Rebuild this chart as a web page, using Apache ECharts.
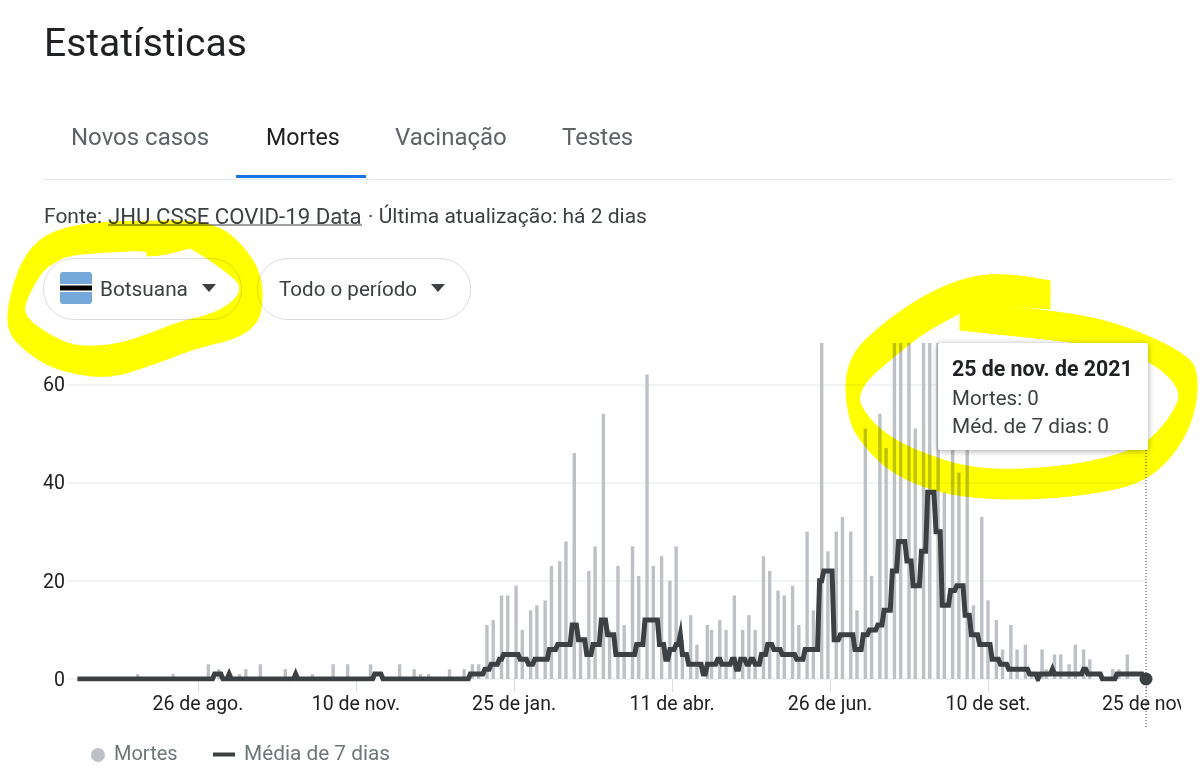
<!DOCTYPE html>
<html lang="pt">
<head>
<meta charset="utf-8">
<title>Estatísticas</title>
<script src="https://cdn.jsdelivr.net/npm/echarts@6/dist/echarts.min.js"></script>
<style>html,body{margin:0;padding:0;background:#fff}#c{width:1200px;height:782px}</style>
</head>
<body>
<div id="c"></div>
<script>
// ---- data (day number = days since 24 Jun 2020) ----
const lastDay = 519;
const tickDays = [63, 139, 215, 291, 367, 443, 519];
const tickLabels = ['26 de ago.', '10 de nov.', '25 de jan.', '11 de abr.', '26 de jun.', '10 de set.', '25 de nov.'];
const yTicks = [0, 20, 40, 60];

const deathDays = [34,51,68,73,83,86,93,105,118,128,135,146,160,167,170,174,184,191,195,198,202,205,209,212,216,219,223,226,230,233,237,240,244,247,251,254,258,261,265,268,272,275,279,282,286,290,293,296,300,303,308,310,314,317,321,325,328,331,335,338,342,345,349,352,356,359,363,366,370,373,377,380,384,387,391,394,398,401,405,408,412,415,419,422,426,429,433,436,440,443,447,450,454,457,461,464,469,471,475,478,482,485,489,492,503,506,510];
const deathValues = [1,1,3,2,1,2,3,2,1,3,3,3,3,2,1,1,2,2,3,3,11,12,17,17,19,10,14,15,16,23,24,28,46,8,22,27,54,10,23,11,27,21,62,23,25,20,27,8,13,7,11,10,12,10,17,10,13,10,25,22,18,17,19,11,30,14,74,26,30,33,30,14,51,21,54,47,72,78,70,51,73,76,70,38,50,42,50,15,33,16,12,6,11,6,7,1,6,2,5,5,3,7,6,4,2,2,5];

const avgStartDays = [5,71,75,78,79,110,111,148,152,194,201,204,208,210,218,222,225,232,236,243,246,250,253,257,260,264,274,278,285,288,290,293,295,296,299,306,308,313,315,320,322,324,327,329,331,334,337,340,344,351,355,362,364,369,372,379,383,386,390,393,397,400,404,407,411,414,418,421,425,428,432,435,439,445,449,453,463,467,468,474,475,489,491,498,505,518];
const avgValues = [0,1,0,1,0,1,0,1,0,1,2,3,4,5,4,3,4,6,7,11,8,5,7,12,9,5,7,12,7,4,6,7,9,5,3,1,3,4,3,4,2,4,3,4,3,5,7,6,5,4,6,20,22,8,9,6,9,10,11,14,22,28,24,19,26,38,30,15,18,19,13,9,7,4,3,2,1,0,1,2,1,2,1,0,1,0];

// ---- derived series ----
const categories = [];
for (let d = 0; d <= lastDay; d++) categories.push(String(d));
const deathData = deathDays.map((d, i) => [d, deathValues[i]]);
const avgData = [];
for (let d = avgStartDays[0], r = 0; d <= lastDay; d++) {
  while (r + 1 < avgStartDays.length && avgStartDays[r + 1] <= d) r++;
  avgData.push([d, avgValues[r]]);
}

// ---- hand-drawn highlighter outlines (page decoration) ----
function chaikin(p, n) {
  for (let k = 0; k < n; k++) {
    const q = [];
    for (let i = 0; i < p.length; i++) {
      const a = p[i], b = p[(i + 1) % p.length];
      q.push([a[0] * .75 + b[0] * .25, a[1] * .75 + b[1] * .25], [a[0] * .25 + b[0] * .75, a[1] * .25 + b[1] * .75]);
    }
    p = q;
  }
  return p;
}
function area(p) { let s = 0; p.forEach((a, i) => { const b = p[(i + 1) % p.length]; s += a[0] * b[1] - b[0] * a[1]; }); return s; }
function ring(outer, inner) {
  const o = chaikin(outer, 2); let h = chaikin(inner, 2);
  if (area(o) * area(h) > 0) h = h.slice().reverse();
  return o.concat([o[0]], h, [h[0], o[0]]);
}
const leftOuter = [[107,222],[152,221],[196,221],[224,229],[244,247],[260,272],[263,300],[258,323],[238,338],[196,348],[152,365],[107,379],[56,370],[26,352],[7,331],[9,300],[21,262],[41,237],[71,226]];
const leftInner = [[45,267],[67,255],[107,252],[147,250],[147,256],[147,256],[163,255],[190,248],[190,248],[210,260],[237,280],[241,290],[232,303],[210,315],[179,322],[152,333],[116,345],[76,347],[49,335],[22,315],[29,293]];
const rightOuter = [[1050,281],[1050,281],[1050,281],[1023,276],[990,274],[963,279],[933,291],[903,309],[877,329],[856,349],[846,373],[846,400],[852,428],[866,448],[886,468],[913,483],[947,494],[990,499],[1040,499],[1090,494],[1134,485],[1162,468],[1185,438],[1197,403],[1197,370],[1188,357],[1160,341],[1123,326],[1090,317],[1050,311],[987,304],[1050,309],[1050,309],[1050,309]];
const rightInner = [[960,313],[960,313],[960,330],[960,330],[1007,335],[1073,342],[1123,350],[1160,367],[1182,392],[1173,413],[1157,433],[1140,447],[1100,460],[1057,467],[1007,470],[967,467],[933,457],[900,443],[877,427],[863,410],[858,397],[867,380],[890,360],[923,333]];

const FONT = 'Roboto, Arial, sans-serif';
const INK = '#202124', GREY = '#5f6368', DARK = '#3c4043', BAR = '#bdc1c6';
function label(x, y, text, size, fill, extra) {
  return { type: 'text', z: 5, x, y, style: Object.assign({ text, fill, font: size + 'px ' + FONT, textVerticalAlign: 'middle' }, extra || {}) };
}
function yellow(points) {
  return { type: 'polygon', z: 50, shape: { points }, style: { fill: '#ffff00', stroke: '#ffff00', lineWidth: 1, blend: 'multiply' } };
}
const chrome = [
  label(44, 46, 'Estatísticas', 39, INK),
  label(71, 139, 'Novos casos', 24, GREY),
  label(266, 139, 'Mortes', 23.2, INK),
  label(395, 139, 'Vacinação', 24, GREY),
  label(562, 139, 'Testes', 24, GREY),
  { type: 'rect', z: 4, shape: { x: 43, y: 179, width: 1130, height: 1 }, style: { fill: '#e8eaed' } },
  { type: 'rect', z: 5, shape: { x: 236, y: 175, width: 130, height: 3 }, style: { fill: '#1a73e8' } },
  label(44, 218, 'Fonte: ', 21, DARK),
  label(108, 218, 'JHU CSSE COVID-19 Data', 22.2, DARK),
  { type: 'rect', z: 5, shape: { x: 108, y: 224.5, width: 254, height: 1 }, style: { fill: DARK } },
  label(368, 218, '· Última atualização: há 2 dias', 21, DARK),
  { type: 'rect', z: 4, shape: { x: 43.5, y: 258.5, width: 198, height: 61, r: 30 }, style: { fill: '#fff', stroke: '#dadce0', lineWidth: 1 } },
  { type: 'rect', z: 4, shape: { x: 257.5, y: 258.5, width: 213, height: 61, r: 30 }, style: { fill: '#fff', stroke: '#dadce0', lineWidth: 1 } },
  { type: 'rect', z: 5, shape: { x: 60, y: 272, width: 32, height: 32, r: 3 }, style: { fill: '#75a9dc' } },
  { type: 'rect', z: 6, shape: { x: 60, y: 284, width: 32, height: 8 }, style: { fill: '#ffffff' } },
  { type: 'rect', z: 7, shape: { x: 60, y: 285.5, width: 32, height: 5 }, style: { fill: '#000000' } },
  label(100, 291, 'Botsuana', 20.8, DARK),
  { type: 'polygon', z: 5, shape: { points: [[202, 284], [216, 284], [209, 292]] }, style: { fill: DARK } },
  label(279, 291, 'Todo o período', 20.6, DARK),
  { type: 'polygon', z: 5, shape: { points: [[431, 284], [445, 284], [438, 292]] }, style: { fill: DARK } },
  { type: 'rect', z: 8, shape: { x: 1181, y: 690, width: 19, height: 30 }, style: { fill: '#fff' } },
  yellow(ring(leftOuter, leftInner)),
  yellow(ring(rightOuter, rightInner)),
  { type: 'rect', z: 60, shape: { x: 938, y: 343, width: 210, height: 107, r: 2 }, style: { fill: '#fff', shadowBlur: 6, shadowColor: 'rgba(0,0,0,.35)', shadowOffsetY: 1 } },
  { type: 'text', z: 61, x: 952, y: 371, style: { text: '25 de nov. de 2021', fill: INK, font: 'bold 21.3px ' + FONT, textVerticalAlign: 'middle' } },
  { type: 'text', z: 61, x: 952, y: 400, style: { text: 'Mortes: 0', fill: DARK, font: '20.5px ' + FONT, textVerticalAlign: 'middle' } },
  { type: 'text', z: 61, x: 952, y: 428, style: { text: 'Méd. de 7 dias: 0', fill: DARK, font: '20.8px ' + FONT, textVerticalAlign: 'middle' } }
];

const chart = echarts.init(document.getElementById('c'), null, { renderer: 'canvas', width: 1200, height: 782 });
const isTick = i => tickDays.includes(i);
chart.setOption({
  backgroundColor: '#fff',
  animation: false,
  tooltip: { show: false },
  grid: { left: 67, right: 54, top: 343, bottom: 103 },
  xAxis: {
    type: 'category', data: categories, boundaryGap: false,
    axisLine: { show: false },
    axisTick: { show: true, interval: isTick, length: 13, lineStyle: { color: '#dadce0', width: 1 } },
    axisLabel: {
      interval: isTick, margin: 16, color: INK, fontSize: 19.5, fontFamily: FONT, hideOverlap: false, showMaxLabel: true,
      formatter: (v, i) => tickLabels[tickDays.indexOf(i)] || ''
    },
    splitLine: { show: false }
  },
  yAxis: {
    type: 'value', min: 0, max: 68.4, interval: 20,
    axisLine: { show: false }, axisTick: { show: false },
    axisLabel: {
      margin: 2, color: INK, fontSize: 19.5, fontFamily: FONT, showMaxLabel: false,
      rich: { t: { color: INK, fontSize: 19.5, fontFamily: FONT, padding: [4, 0, 0, 0] } },
      formatter: v => yTicks.includes(v) ? '{t|' + v + '}' : ''
    },
    splitLine: { show: true, showMaxLine: false, lineStyle: { color: '#eeeff1', width: 1.5 } }
  },
  legend: [
    { data: [{ name: 'Mortes', icon: 'circle' }], left: 91, top: 745, itemWidth: 14, itemHeight: 14, itemGap: 0, selectedMode: false, padding: 0,
      textStyle: { color: '#70757a', fontSize: 20, fontFamily: FONT, padding: [2, 0, 0, 4] } },
    { data: [{ name: 'Média de 7 dias', icon: 'rect' }], left: 213, top: 744, itemWidth: 22, itemHeight: 4, itemGap: 0, selectedMode: false, padding: 0,
      textStyle: { color: '#70757a', fontSize: 20.8, fontFamily: FONT, padding: [2, 0, 0, 4] } }
  ],
  series: [
    { name: 'Mortes', type: 'bar', data: deathData, barWidth: 3.4, itemStyle: { color: BAR }, silent: true, z: 2 },
    { name: 'Média de 7 dias', type: 'line', data: avgData, showSymbol: false, symbol: 'none', silent: true, z: 3,
      itemStyle: { color: DARK },
      lineStyle: { color: DARK, width: 5, join: 'miter', cap: 'butt' } },
    { name: 'Atual', type: 'scatter', data: [[lastDay, avgValues[avgValues.length - 1]]], symbolSize: 13, itemStyle: { color: DARK, opacity: 1 }, silent: true, z: 4 }
  ],
  graphic: { elements: chrome }
});
// hover cursor: dotted vertical at the last day, positioned through the axis scale
const cursorX = chart.convertToPixel({ xAxisIndex: 0 }, String(lastDay));
chart.setOption({ graphic: { elements: chrome.concat([
  { type: 'line', z: 45, shape: { x1: cursorX, y1: 450, x2: cursorX, y2: 727 }, style: { stroke: DARK, lineWidth: 1, lineDash: [1, 2] } }
]) } });
</script>
</body>
</html>
